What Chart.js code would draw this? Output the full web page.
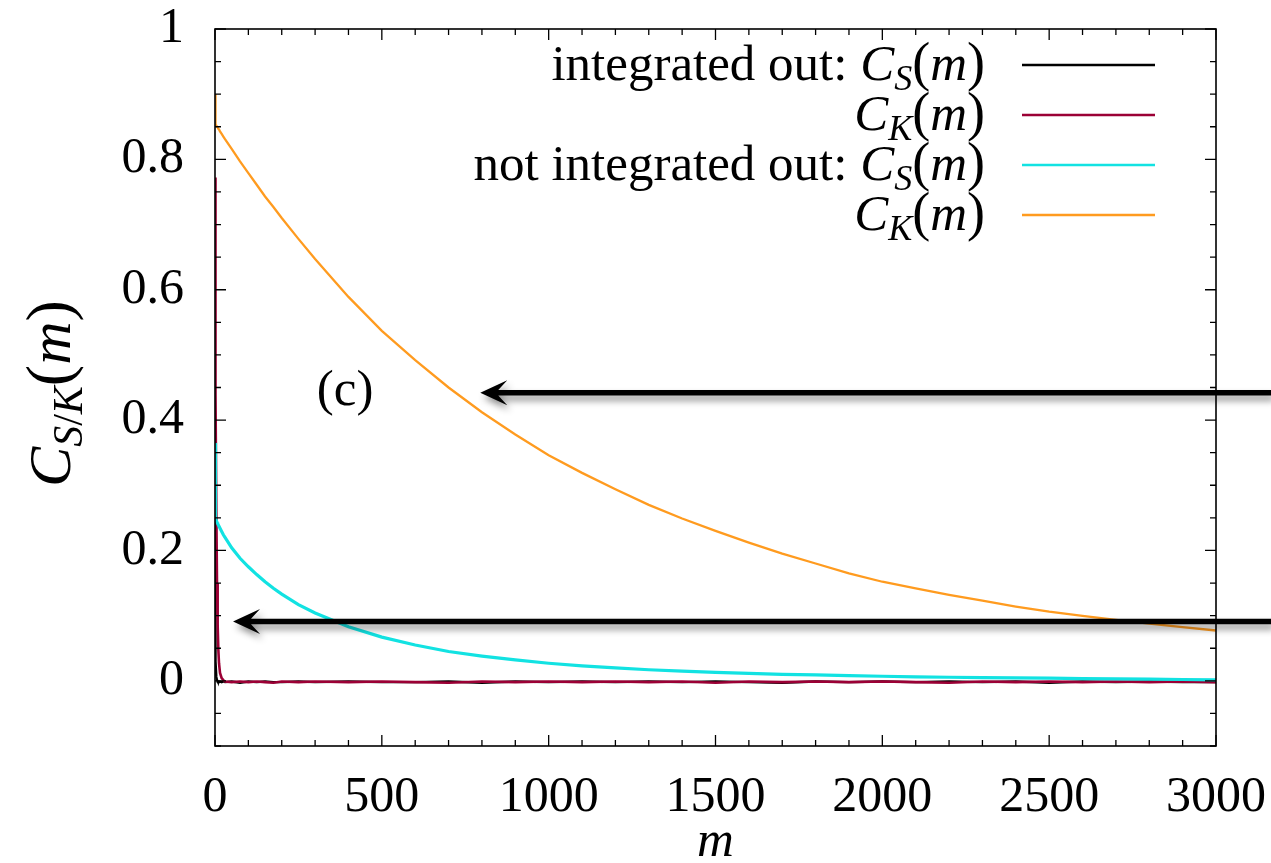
<!DOCTYPE html>
<html>
<head>
<meta charset="utf-8">
<script src="https://cdn.jsdelivr.net/npm/chart.js@4.4.1/dist/chart.umd.min.js"></script>
<style>
  html, body { margin: 0; padding: 0; background: #fff; }
  #wrap { width: 1271px; height: 863px; position: relative; }
</style>
</head>
<body>
<div id="wrap"><canvas id="corrChart"></canvas></div>
<script>
// lag m, dense near zero where the fast correlators drop
const mGrid = [0, 1, 2, 4, 6, 8, 10, 12, 15, 20, 25, 30, 50, 75, 100, 125, 150, 175, 200, 250,
  300, 400, 500, 600, 700, 800, 900, 1000, 1100, 1200, 1300, 1400, 1500, 1600, 1700, 1800,
  1900, 2000, 2100, 2200, 2300, 2400, 2500, 2600, 2700, 2800, 2900, 3000];

// integrated out
const csIntegrated = [0.260, 0.090, 0.030, 0.006, 0.001, -0.001, -0.001, -0.002, -0.001, -0.002,
  -0.001, -0.002, -0.001, -0.003, -0.001, -0.002, -0.001, -0.002, -0.002, -0.001,
  -0.002,
  -0.001, -0.002, -0.002, -0.001, -0.003, -0.001, -0.002, -0.001, -0.002, -0.001,
  -0.002, -0.001, -0.002, -0.003, -0.001, -0.002, -0.001, -0.002, -0.001, -0.002,
  -0.001, -0.003, -0.001, -0.002, -0.001, -0.002, -0.002];
const ckIntegrated = [0.772, 0.580, 0.440, 0.260, 0.150, 0.085, 0.048, 0.027, 0.012, 0.004,
  0.001, -0.001, -0.002, -0.001, -0.002, -0.001, -0.002, -0.003, -0.001, -0.002,
  -0.001,
  -0.002, -0.001, -0.002, -0.003, -0.001, -0.002, -0.001, -0.002, -0.001, -0.002,
  -0.001, -0.003, -0.001, -0.002, -0.001, -0.002, -0.001, -0.002, -0.003, -0.001,
  -0.002, -0.001, -0.002, -0.001, -0.002, -0.001, -0.002];

// not integrated out
const csNotIntegrated = [0.365, 0.250, 0.248, 0.246, 0.243, 0.241, 0.239, 0.237, 0.234, 0.229,
  0.224, 0.220, 0.204, 0.188, 0.175, 0.163, 0.152, 0.142, 0.133, 0.117,
  0.104,
  0.083, 0.067, 0.055, 0.045, 0.038, 0.032, 0.027, 0.023, 0.020, 0.017,
  0.015, 0.013, 0.0115, 0.010, 0.009, 0.008, 0.007, 0.006, 0.0055, 0.005,
  0.0045, 0.004, 0.0035, 0.003, 0.0025, 0.002, 0.0015];
const ckNotIntegrated = [0.900, 0.855, 0.853, 0.852, 0.850, 0.849, 0.847, 0.846, 0.843, 0.839,
  0.835, 0.831, 0.816, 0.797, 0.779, 0.761, 0.743, 0.727, 0.710, 0.678,
  0.647,
  0.589, 0.537, 0.492, 0.450, 0.412, 0.378, 0.346, 0.319, 0.294, 0.270,
  0.249, 0.230, 0.212, 0.195, 0.180, 0.165, 0.152, 0.142, 0.132, 0.123,
  0.114, 0.106, 0.0997, 0.0935, 0.0877, 0.0823, 0.0772];

const xTicks = [0, 500, 1000, 1500, 2000, 2500, 3000];
const yTicks = [0, 0.2, 0.4, 0.6, 0.8, 1];
const xMinorStep = 100;
const yMinorStep = 0.05;

// arrow tips in data units; shafts run out to the right edge of the page
const arrowTips = [{ m: 795, v: 0.442 }, { m: 54, v: 0.091 }];
const panelTag = { text: '(c)', m: 390, v: 0.443 };

const colors = { cs1: '#000000', ck1: '#9b0035', cs2: '#12e2e2', ck2: '#ff9b1f' };
const SERIF = '"Liberation Serif", "DejaVu Serif", serif';

function runsFor(prefix, sub) {
  return [
    { t: prefix, it: false, size: 51, dy: 0 },
    { t: 'C', it: true, size: 51, dy: 0 },
    { t: sub, it: true, size: 36, dy: 10 },
    { t: '(', it: false, size: 54, dy: 0 },
    { t: 'm', it: true, size: 51, dy: 0 },
    { t: ')', it: false, size: 54, dy: 0 }
  ];
}

const legendRows = [
  { runs: runsFor('integrated out: ', 'S'), color: colors.cs1 },
  { runs: runsFor('', 'K'), color: colors.ck1 },
  { runs: runsFor('not integrated out: ', 'S'), color: colors.cs2 },
  { runs: runsFor('', 'K'), color: colors.ck2 }
];

function setFont(ctx, r) {
  ctx.font = (r.it ? 'italic ' : '') + r.size + 'px ' + SERIF;
}
function runsWidth(ctx, runs) {
  let w = 0;
  runs.forEach(r => { setFont(ctx, r); w += ctx.measureText(r.t).width; });
  return w;
}
function drawRuns(ctx, runs, x, y) {
  runs.forEach(r => {
    setFont(ctx, r);
    ctx.fillText(r.t, x, y + r.dy);
    x += ctx.measureText(r.t).width;
  });
}

function drawArrow(ctx, tipX, tipY, tailX) {
  const headLen = 27, headHalf = 12.5, notch = 18, shaft = 2.8;
  ctx.save();
  ctx.shadowColor = 'rgba(0,0,0,0.45)';
  ctx.shadowBlur = 7;
  ctx.shadowOffsetX = 3;
  ctx.shadowOffsetY = 5;
  ctx.fillStyle = '#000';
  ctx.beginPath();
  ctx.moveTo(tipX, tipY);
  ctx.lineTo(tipX + headLen, tipY - headHalf);
  ctx.lineTo(tipX + notch, tipY - shaft);
  ctx.lineTo(tailX, tipY - shaft);
  ctx.lineTo(tailX, tipY + shaft);
  ctx.lineTo(tipX + notch, tipY + shaft);
  ctx.lineTo(tipX + headLen, tipY + headHalf);
  ctx.closePath();
  ctx.fill();
  ctx.restore();
}

// keep the plot frame exactly where the layout padding puts it
function noScalePadding(s) {
  s.paddingTop = 0; s.paddingBottom = 0; s.paddingLeft = 0; s.paddingRight = 0;
}

const decorPlugin = {
  id: 'decor',
  afterDatasetsDraw(chart) {
    const ctx = chart.ctx;
    const { left, right, top, bottom } = chart.chartArea;
    const xs = chart.scales.x, ys = chart.scales.y;
    ctx.save();

    // frame with inward ticks on all four sides
    ctx.strokeStyle = '#000';
    ctx.lineWidth = 1.6;
    ctx.strokeRect(left, top, right - left, bottom - top);
    ctx.lineWidth = 1.3;
    ctx.beginPath();
    const nx = Math.round((xs.max - xs.min) / xMinorStep);
    for (let i = 0; i <= nx; i++) {
      const m = xs.min + i * xMinorStep;
      const px = xs.getPixelForValue(m);
      const len = xTicks.includes(m) ? 11 : 6;
      ctx.moveTo(px, bottom); ctx.lineTo(px, bottom - len);
      ctx.moveTo(px, top); ctx.lineTo(px, top + len);
    }
    const ny = Math.round((ys.max - ys.min) / yMinorStep);
    for (let i = 0; i <= ny; i++) {
      const v = ys.min + i * yMinorStep;
      const py = ys.getPixelForValue(v);
      const len = yTicks.some(t => Math.abs(t - v) < 1e-6) ? 11 : 6;
      ctx.moveTo(left, py); ctx.lineTo(left + len, py);
      ctx.moveTo(right, py); ctx.lineTo(right - len, py);
    }
    ctx.stroke();

    // legend, text right-aligned in front of the line sample
    ctx.fillStyle = '#000';
    ctx.textBaseline = 'alphabetic';
    ctx.textAlign = 'left';
    legendRows.forEach((row, i) => {
      const cy = top + 36 + i * 50;
      const w = runsWidth(ctx, row.runs);
      drawRuns(ctx, row.runs, right - 231 - w, cy + 15);
      ctx.strokeStyle = row.color;
      ctx.lineWidth = 2.4;
      ctx.beginPath();
      ctx.moveTo(right - 194, cy);
      ctx.lineTo(right - 61, cy);
      ctx.stroke();
    });

    // panel tag
    ctx.font = '51px ' + SERIF;
    ctx.textAlign = 'center';
    ctx.textBaseline = 'middle';
    ctx.fillText(panelTag.text, xs.getPixelForValue(panelTag.m), ys.getPixelForValue(panelTag.v));

    // axis titles
    ctx.textAlign = 'left';
    ctx.textBaseline = 'alphabetic';
    ctx.font = 'italic 51px ' + SERIF;
    const mw = ctx.measureText('m').width;
    ctx.fillText('m', (left + right) / 2 - mw / 2, 856);

    const yRuns = [
      { t: 'C', it: true, size: 60, dy: 0 },
      { t: 'S', it: true, size: 42, dy: 12 },
      { t: '/', it: false, size: 42, dy: 12 },
      { t: 'K', it: true, size: 42, dy: 12 },
      { t: '(', it: false, size: 64, dy: 0 },
      { t: 'm', it: true, size: 60, dy: 0 },
      { t: ')', it: false, size: 64, dy: 0 }
    ];
    ctx.save();
    ctx.translate(70, (top + bottom) / 2 + 6);
    ctx.rotate(-Math.PI / 2);
    drawRuns(ctx, yRuns, -runsWidth(ctx, yRuns) / 2, 0);
    ctx.restore();

    // arrows
    arrowTips.forEach(a => {
      drawArrow(ctx, xs.getPixelForValue(a.m), ys.getPixelForValue(a.v), chart.width);
    });
    ctx.restore();
  }
};

function series(values) {
  return mGrid.map((m, i) => ({ x: m, y: values[i] }));
}

const lineStyle = { pointRadius: 0, tension: 0, fill: false };

new Chart(document.getElementById('corrChart').getContext('2d'), {
  type: 'line',
  data: {
    datasets: [
      Object.assign({ label: 'integrated out: C_S(m)', data: series(csIntegrated), borderColor: colors.cs1, borderWidth: 2.4, order: 4 }, lineStyle),
      Object.assign({ label: 'C_K(m)', data: series(ckIntegrated), borderColor: colors.ck1, borderWidth: 2.6, order: 3 }, lineStyle),
      Object.assign({ label: 'not integrated out: C_S(m)', data: series(csNotIntegrated), borderColor: colors.cs2, borderWidth: 3.2, order: 2 }, lineStyle),
      Object.assign({ label: 'C_K(m)', data: series(ckNotIntegrated), borderColor: colors.ck2, borderWidth: 2.3, order: 1 }, lineStyle)
    ]
  },
  options: {
    responsive: true,
    maintainAspectRatio: false,
    animation: false,
    layout: { padding: { top: 29, right: 55, left: 0, bottom: 0 } },
    plugins: { legend: { display: false }, tooltip: { enabled: false } },
    scales: {
      x: {
        type: 'linear',
        min: 0,
        max: 3000,
        afterFit(s) { s.height = 117; noScalePadding(s); },
        afterBuildTicks(s) { s.ticks = xTicks.map(v => ({ value: v })); },
        grid: { display: false, drawTicks: false },
        border: { display: false },
        ticks: {
          font: { family: SERIF, size: 50 },
          color: '#000',
          padding: 22,
          maxRotation: 0,
          autoSkip: false,
          callback: v => String(v)
        }
      },
      y: {
        type: 'linear',
        min: -0.1,
        max: 1,
        afterFit(s) { s.width = 215; noScalePadding(s); },
        afterBuildTicks(s) { s.ticks = yTicks.map(v => ({ value: v })); },
        grid: { display: false, drawTicks: false },
        border: { display: false },
        ticks: {
          font: { family: SERIF, size: 50 },
          color: '#000',
          padding: 31,
          autoSkip: false,
          callback: v => String(v)
        }
      }
    }
  },
  plugins: [decorPlugin]
});
</script>
</body>
</html>
